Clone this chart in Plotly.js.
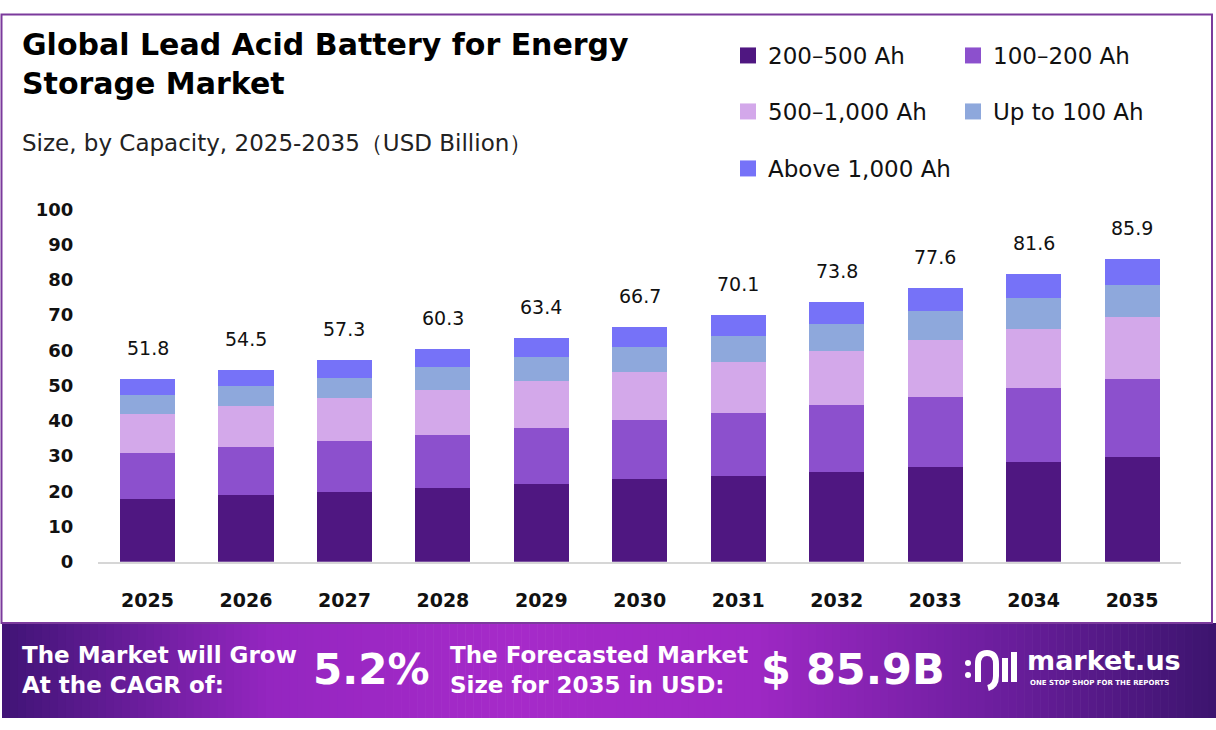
<!DOCTYPE html>
<html>
<head>
<meta charset="utf-8">
<script src="https://cdn.plot.ly/plotly-3.0.1.min.js"></script>
<style>
html,body{margin:0;padding:0;background:#ffffff;}
#chart{width:1216px;height:730px;}
</style>
</head>
<body>
<div id="chart"></div>
<script>
// ---- data ----
const years = ['2025','2026','2027','2028','2029','2030','2031','2032','2033','2034','2035'];
const cap200to500  = [17.9,18.8,19.9,21.0,22.2,23.4,24.4,25.6,27.0,28.4,29.8];
const cap100to200  = [13.1,13.9,14.5,15.1,15.9,16.7,17.8,18.9,19.7,20.8,22.0];
const cap500to1000 = [10.8,11.4,12.0,12.6,13.1,13.7,14.4,15.3,16.3,16.8,17.7];
const capUpTo100   = [5.4,5.7,5.9,6.5,6.8,7.1,7.5,7.7,8.2,8.9,9.2];
const capAbove1000 = [4.6,4.7,5.0,5.1,5.4,5.8,6.0,6.3,6.4,6.7,7.2];
const totals       = [51.8,54.5,57.3,60.3,63.4,66.7,70.1,73.8,77.6,81.6,85.9];
const seriesNames  = ['200–500 Ah','100–200 Ah','500–1,000 Ah','Up to 100 Ah','Above 1,000 Ah'];
const yTicks       = [0,10,20,30,40,50,60,70,80,90,100];
const cagrText     = '5.2%';
const forecastText = '$ 85.9B';

// ---- styles ----
const W = 1216, H = 730;
const px = v => v / W;
const py = v => 1 - v / H;
const colors = ['#4f1781','#8c50cd','#d3a8ea','#8ea8dc','#7672f8'];
const seriesData = [cap200to500, cap100to200, cap500to1000, capUpTo100, capAbove1000];
const legendOf = ['legend','legend','legend2','legend2','legend3'];
const FONT = '"DejaVu Sans", Inter, sans-serif';

const traces = [];
seriesData.forEach((vals, i) => {
  traces.push({
    type: 'bar', x: years, y: vals, name: seriesNames[i],
    marker: {color: colors[i], line: {width: 0}},
    showlegend: false, hoverinfo: 'skip'
  });
});
// legend entries
seriesData.forEach((vals, i) => {
  traces.push({
    type: 'scatter', mode: 'markers', x: [null], y: [null], name: seriesNames[i],
    marker: {symbol: 'square', size: 16, color: colors[i]},
    legend: legendOf[i], showlegend: true, hoverinfo: 'skip'
  });
});

const annotations = [];
// totals above bars (x given as category index)
years.forEach((yr, i) => {
  annotations.push({
    x: i, y: totals[i], xref: 'x', yref: 'y', text: totals[i].toFixed(1),
    showarrow: false, yshift: 31,
    font: {family: FONT, size: 19, color: '#111111'}
  });
});
// titles
annotations.push({
  xref: 'paper', yref: 'paper', x: px(20), y: py(63.5), xanchor: 'left', yanchor: 'middle',
  align: 'left', showarrow: false,
  text: 'Global Lead Acid Battery for Energy<br>Storage Market',
  font: {family: FONT, size: 30, color: '#000000', weight: 700}
});
annotations.push({
  xref: 'paper', yref: 'paper', x: px(20), y: py(143), xanchor: 'left', yanchor: 'middle',
  showarrow: false, text: 'Size, by Capacity, 2025-2035（USD Billion）',
  font: {family: FONT, size: 23, color: '#222222'}
});
// banner text
annotations.push({
  xref: 'paper', yref: 'paper', x: px(20), y: py(670), xanchor: 'left', yanchor: 'middle',
  align: 'left', showarrow: false, text: 'The Market will Grow<br>At the CAGR of:',
  font: {family: FONT, size: 23, color: '#ffffff', weight: 700}
});
annotations.push({
  xref: 'paper', yref: 'paper', x: px(311), y: py(669), xanchor: 'left', yanchor: 'middle',
  showarrow: false, text: cagrText,
  font: {family: FONT, size: 42, color: '#ffffff', weight: 700}
});
annotations.push({
  xref: 'paper', yref: 'paper', x: px(448), y: py(670), xanchor: 'left', yanchor: 'middle',
  align: 'left', showarrow: false, text: 'The Forecasted Market<br>Size for 2035 in USD:',
  font: {family: FONT, size: 23, color: '#ffffff', weight: 700}
});
annotations.push({
  xref: 'paper', yref: 'paper', x: px(759), y: py(669), xanchor: 'left', yanchor: 'middle',
  showarrow: false, text: forecastText,
  font: {family: FONT, size: 43, color: '#ffffff', weight: 700}
});
annotations.push({
  xref: 'paper', yref: 'paper', x: px(1025), y: py(660), xanchor: 'left', yanchor: 'middle',
  showarrow: false, text: 'market.us',
  font: {family: FONT, size: 27, color: '#ffffff', weight: 700}
});
annotations.push({
  xref: 'paper', yref: 'paper', x: px(1028), y: py(683), xanchor: 'left', yanchor: 'middle',
  showarrow: false, text: 'ONE STOP SHOP FOR THE REPORTS',
  font: {family: FONT, size: 7, color: '#ffffff', weight: 700}
});

// shapes: banner gradient
const shapes = [];
const stops = [
  [0.00, [64, 20, 118]],
  [0.22, [148, 38, 192]],
  [0.42, [166, 42, 201]],
  [0.62, [158, 40, 196]],
  [0.82, [108, 30, 158]],
  [1.00, [60, 20, 110]]
];
function colAt(t) {
  for (let k = 0; k < stops.length - 1; k++) {
    const [t0, c0] = stops[k], [t1, c1] = stops[k + 1];
    if (t >= t0 && t <= t1) {
      const f = (t - t0) / (t1 - t0);
      const c = c0.map((v, j) => Math.round(v + (c1[j] - v) * f));
      return 'rgb(' + c.join(',') + ')';
    }
  }
  return 'rgb(60,20,110)';
}
const N = 152, bx0 = 2, bx1 = 1216;
for (let k = 0; k < N; k++) {
  const a = bx0 + (bx1 - bx0) * k / N, b = bx0 + (bx1 - bx0) * (k + 1) / N;
  shapes.push({
    type: 'rect', xref: 'paper', yref: 'paper', x0: px(a), x1: px(b + 0.6),
    y0: py(718), y1: py(623), fillcolor: colAt((k + 0.5) / N), line: {width: 0}, layer: 'below'
  });
}
// frame
shapes.push({
  type: 'rect', xref: 'paper', yref: 'paper', x0: px(1.5), x1: px(1212), y0: py(623), y1: py(14.5),
  line: {color: '#7b3a9c', width: 2}, fillcolor: 'rgba(0,0,0,0)', layer: 'below'
});
// logo icon (simple strokes)
const iconLine = {color: '#ffffff', width: 6};
shapes.push({type: 'circle', xref: 'paper', yref: 'paper', x0: px(965), x1: px(971), y0: py(666), y1: py(660), fillcolor: '#ffffff', line: {width: 0}});
shapes.push({type: 'circle', xref: 'paper', yref: 'paper', x0: px(965), x1: px(971), y0: py(678), y1: py(672), fillcolor: '#ffffff', line: {width: 0}});
shapes.push({type: 'path', xref: 'paper', yref: 'paper',
  path: 'M' + px(978) + ',' + py(682) + ' L' + px(978) + ',' + py(664) + ' Q' + px(978) + ',' + py(653) + ' ' + px(987) + ',' + py(653) + ' Q' + px(996) + ',' + py(653) + ' ' + px(996) + ',' + py(664) + ' L' + px(996) + ',' + py(676) + ' Q' + px(996) + ',' + py(686) + ' ' + px(988) + ',' + py(688),
  line: iconLine});
shapes.push({type: 'line', xref: 'paper', yref: 'paper', x0: px(1005), x1: px(1005), y0: py(658), y1: py(682), line: iconLine});
shapes.push({type: 'line', xref: 'paper', yref: 'paper', x0: px(1014), x1: px(1014), y0: py(652), y1: py(682), line: iconLine});

const legendBase = {
  orientation: 'h', xanchor: 'left', yanchor: 'top', x: px(728),
  font: {family: FONT, size: 23, color: '#111111'},
  bgcolor: 'rgba(0,0,0,0)', itemsizing: 'trace', entrywidth: 180, valign: 'middle',
  traceorder: 'normal', tracegroupgap: 0, itemclick: false, itemdoubleclick: false
};

const layout = {
  width: W, height: H,
  margin: {l: 0, r: 0, t: 0, b: 0, pad: 0},
  paper_bgcolor: '#ffffff', plot_bgcolor: 'rgba(0,0,0,0)',
  barmode: 'stack', bargap: 0.44,
  showlegend: true,
  legend: Object.assign({}, legendBase, {y: py(34)}),
  legend2: Object.assign({}, legendBase, {y: py(90)}),
  legend3: Object.assign({}, legendBase, {y: py(147)}),
  xaxis: {
    domain: [px(98.3), px(1181.3)], type: 'category', categoryorder: 'array', categoryarray: years,
    range: [-0.5, 10.5], showgrid: false, zeroline: false,
    showline: true, linecolor: '#d6d6d6', linewidth: 2,
    ticks: '', ticklabelstandoff: 20,
    tickfont: {family: FONT, size: 19, color: '#111111', weight: 700},
    fixedrange: true
  },
  yaxis: {
    domain: [py(561.7), py(209.5)], range: [0, 100], tickmode: 'array', tickvals: yTicks,
    ticktext: yTicks.map(String), showgrid: false, zeroline: false, showline: false,
    ticks: '', ticklabelstandoff: 24,
    tickfont: {family: FONT, size: 18, color: '#111111', weight: 700},
    fixedrange: true
  },
  shapes: shapes,
  annotations: annotations,
  hovermode: false
};

Plotly.newPlot('chart', traces, layout, {displayModeBar: false, staticPlot: true});
</script>
</body>
</html>
